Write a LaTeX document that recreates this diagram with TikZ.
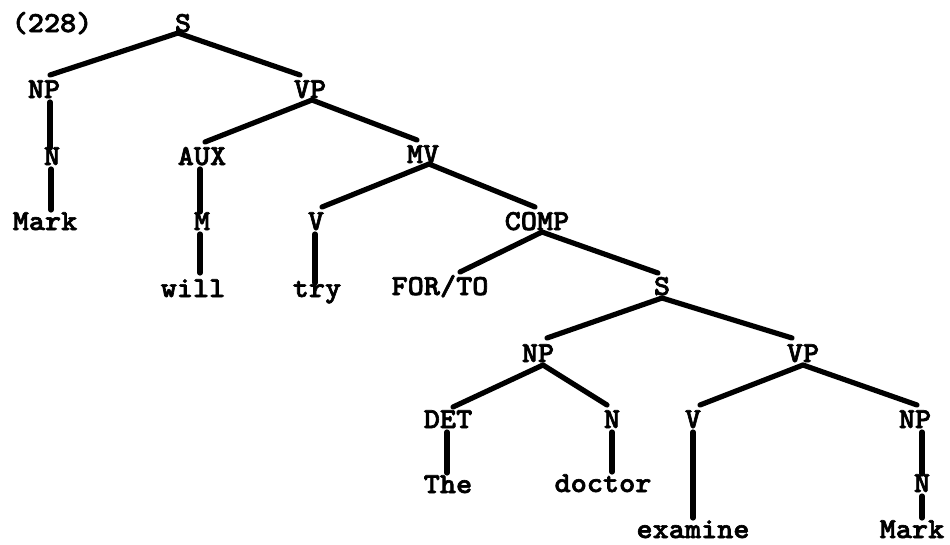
\documentclass[tikz,border=0pt]{standalone}
\usepackage{fontspec}
\newfontfamily\tw{Latin Modern Mono Light}[FakeStretch=1.06,FakeBold=2.2]
\begin{document}
\begin{tikzpicture}[x=1pt,y=-1pt,
  lab/.style={anchor=base,inner sep=0pt,outer sep=0pt,text height=16pt,text depth=0pt,
    font=\tw\fontsize{29}{32}\selectfont\bfseries},
  br/.style={line width=5.2pt,line cap=round}]
\useasboundingbox (0,0) rectangle (950,544);
% row baselines: 32, 98, 165, 230, 296, 362, 428, 492, 538
\node[lab] (num) at (52,32) {(228)};
\node[lab] (S) at (183,32) {S};
\node[lab] (NP) at (44,98) {NP};
\node[lab] (VP) at (310,98) {VP};
\node[lab] (N1) at (52,165) {N};
\node[lab] (AUX) at (202,165) {AUX};
\node[lab] (MV) at (423,163) {MV};
\node[lab] (Mark) at (45,230) {Mark};
\node[lab] (M) at (202,230) {M};
\node[lab] (V1) at (316,230) {V};
\node[lab] (COMP) at (537,230) {COMP};
\node[lab] (will) at (193,297) {will};
\node[lab] (try) at (317,297) {try};
\node[lab] (FORTO) at (440,295) {FOR/TO};
\node[lab] (S2) at (662,295) {S};
\node[lab] (NP2) at (538,362) {NP};
\node[lab] (VP2) at (803,362) {VP};
\node[lab] (DET) at (448,428) {DET};
\node[lab] (N2) at (612,428) {N};
\node[lab] (V2) at (693,428) {V};
\node[lab] (NP3) at (915,428) {NP};
\node[lab] (The) at (448,493) {The};
\node[lab] (doctor) at (603,492) {doctor};
\node[lab] (N3) at (922,492) {N};
\node[lab] (examine) at (693,538) {examine};
\node[lab] (Mark2) at (912,538) {Mark};
% branching edges
\draw[br] ([xshift=-5pt,yshift=-1pt]S.south) -- ([xshift=6pt,yshift=7pt]NP.north);
\draw[br] ([xshift=-5pt,yshift=-1pt]S.south) -- ([xshift=-10pt,yshift=7pt]VP.north);
\draw[br] ([xshift=2pt,yshift=-2pt]VP.south) -- ([xshift=3pt,yshift=7pt]AUX.north);
\draw[br] ([xshift=2pt,yshift=-2pt]VP.south) -- ([xshift=-6pt,yshift=7pt]MV.north);
\draw[br] ([xshift=6pt,yshift=-1pt]MV.south) -- ([xshift=6pt,yshift=7pt]V1.north);
\draw[br] ([xshift=6pt,yshift=-1pt]MV.south) -- ([xshift=-2pt,yshift=7pt]COMP.north);
\draw[br] ([xshift=5pt,yshift=-2pt]COMP.south) -- ([xshift=20pt,yshift=7pt]FORTO.north);
\draw[br] ([xshift=5pt,yshift=-2pt]COMP.south) -- ([xshift=-4pt,yshift=6pt]S2.north);
\draw[br] ([yshift=-3pt]S2.south) -- ([xshift=9pt,yshift=8pt]NP2.north);
\draw[br] ([yshift=-3pt]S2.south) -- ([xshift=-11pt,yshift=8pt]VP2.north);
\draw[br] ([xshift=5pt,yshift=-3pt]NP2.south) -- ([xshift=5pt,yshift=5pt]DET.north);
\draw[br] ([xshift=5pt,yshift=-3pt]NP2.south) -- ([xshift=-5pt,yshift=7pt]N2.north);
\draw[br] ([yshift=-3pt]VP2.south) -- ([xshift=7pt,yshift=7pt]V2.north);
\draw[br] ([yshift=-3pt]VP2.south) -- ([xshift=2pt,yshift=7pt]NP3.north);
% vertical edges
\draw[br] ([xshift=-2pt]NP.south -| N1.north) ++(0,4) -- ([xshift=-2pt,yshift=1pt]N1.north);
\draw[br] ([xshift=-1pt]N1.south) ++(0,4) -- ([xshift=-1pt,yshift=4pt]N1.south |- Mark.north);
\draw[br] ([xshift=-2pt]AUX.south) ++(0,4) -- ([xshift=-2pt,yshift=2pt]M.north);
\draw[br] ([xshift=-2pt]M.south) ++(0,4) -- ([xshift=-2pt,yshift=8pt]M.south |- will.north);
\draw[br] ([xshift=-1pt]V1.south) ++(0,4) -- ([xshift=-1pt,yshift=-2pt]V1.south |- try.north);
\draw[br] ([xshift=-1pt]DET.south) ++(0,4) -- ([xshift=-1pt,yshift=4pt]DET.south |- The.north);
\draw[br] (N2.south) ++(0,4) -- ([yshift=4pt]N2.south |- doctor.north);
\draw[br] (V2.south) ++(0,4) -- ([yshift=4pt]V2.south |- examine.north);
\draw[br] (NP3.south -| N3.north) ++(0,4) -- ([yshift=2pt]N3.north);
\draw[br] (N3.south) ++(0,4) -- ([yshift=4pt]N3.south |- Mark2.north);
\end{tikzpicture}
\end{document}
